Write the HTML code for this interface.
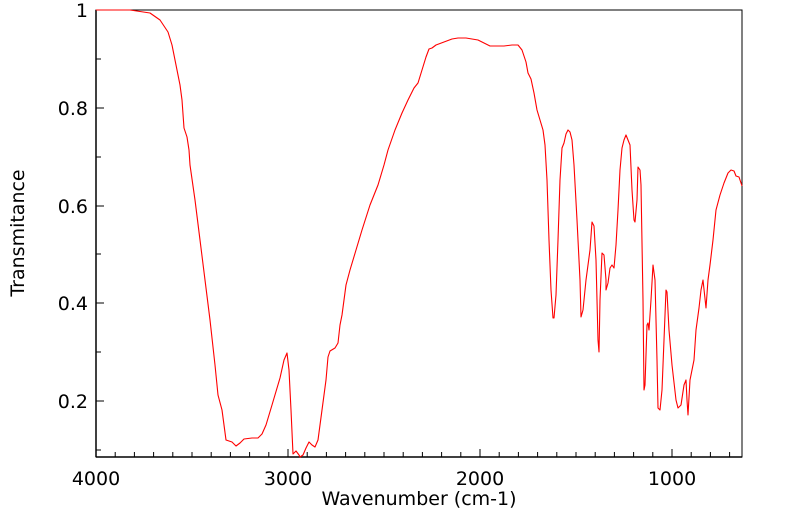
<!DOCTYPE html>
<html><head><meta charset="utf-8"><style>body{margin:0;background:#fff}svg{display:block}text{font-family:"DejaVu Sans","Liberation Sans",sans-serif;fill:#000}</style></head><body>
<svg width="799" height="516" xmlns="http://www.w3.org/2000/svg">
<rect x="96" y="10" width="646" height="447" fill="none" stroke="#000" stroke-width="1"/>
<g stroke="#000" stroke-width="1">
<line x1="96" y1="457" x2="742" y2="457" stroke-width="1.5"/>
<line x1="96" y1="10" x2="96" y2="457" stroke-width="1.5"/>
<path d="M96 457v-8M115.2 457v-5M134.4 457v-5M153.6 457v-5M172.8 457v-5M192 457v-5M211.2 457v-5M230.4 457v-5M249.6 457v-5M268.8 457v-5M288 457v-8M307.2 457v-5M326.4 457v-5M345.6 457v-5M364.8 457v-5M384 457v-5M403.2 457v-5M422.4 457v-5M441.6 457v-5M460.8 457v-5M480 457v-8M499.2 457v-5M518.4 457v-5M537.6 457v-5M556.8 457v-5M576 457v-5M595.2 457v-5M614.4 457v-5M633.6 457v-5M652.8 457v-5M672 457v-8M691.2 457v-5M710.4 457v-5M729.6 457v-5"/>
<path d="M96 10h8M96 59h5M96 108h8M96 157h5M96 206h8M96 254h5M96 303h8M96 352h5M96 401h8M96 450h5"/>
</g>
<g font-size="19" text-anchor="end">
<text x="88" y="17">1</text><text x="88" y="115">0.8</text><text x="88" y="213">0.6</text><text x="88" y="310">0.4</text><text x="88" y="408">0.2</text>
</g>
<g font-size="19" text-anchor="middle">
<text x="96" y="485">4000</text><text x="288" y="485">3000</text><text x="480" y="485">2000</text><text x="672" y="485">1000</text>
<text x="419" y="505">Wavenumber (cm-1)</text>
<text transform="translate(24,233) rotate(-90)">Transmitance</text>
</g>
<polyline fill="none" stroke="#f00" stroke-width="1.1" stroke-linejoin="round" points="96,10 130,10 150,13 160,20 168,32 172,45 176,65 180,85 182,100 184,128 187,137 189,150 190,165 195,200 200,240 205,280 210,320 215,365 218,395 222,410 224,425 226,440 232,442 236,446 240,443 244,439 252,438 258,438 262,434 266,425 272,405 280,378 284,360 287,353 289,370 291,410 293,454 296,451 299,455 300,457 303,455 306,448 309,442 312,445 315,447 318,440 322,410 326,380 328,357 330,351 335,348 338,343 340,325 342,315 344,300 346,285 350,270 356,250 362,230 370,205 378,185 384,165 388,150 395,130 402,113 408,100 414,88 418,83 422,70 426,57 429,49 432,48 436,45 444,42 452,39 458,38 466,38 478,40 484,43 490,46 496,46 504,46 512,45 518,45 522,50 526,62 528,73 531,79 534,93 537,110 540,120 543,130 545,145 547,180 549,240 551,290 553,318 554,318 556,295 558,240 560,180 562,148 564,143 566,134 568,130 570,132 572,140 574,165 577,220 580,280 581,317 583,310 586,280 590,250 592,222 594,226 596,260 598,340 599,352 600,300 602,253 604,255 606,280 606,290 608,283 610,268 612,265 614,268 616,245 618,210 620,170 622,148 624,140 626,135 628,140 630,145 632,190 634,220 635,222 637,200 638,167 640,170 641,185 643,300 644,390 645,385 647,325 648,323 649,330 651,300 653,265 655,280 657,360 658,408 660,410 662,390 664,340 666,290 667,292 669,330 672,365 676,400 678,408 681,405 684,385 686,380 687,400 688,415 690,380 692,370 694,360 696,330 699,308 701,290 703,280 706,308 708,280 710,265 713,240 716,210 720,195 724,183 728,173 731,170 734,171 736,176 739,177 742,186"/>
</svg>
</body></html>
